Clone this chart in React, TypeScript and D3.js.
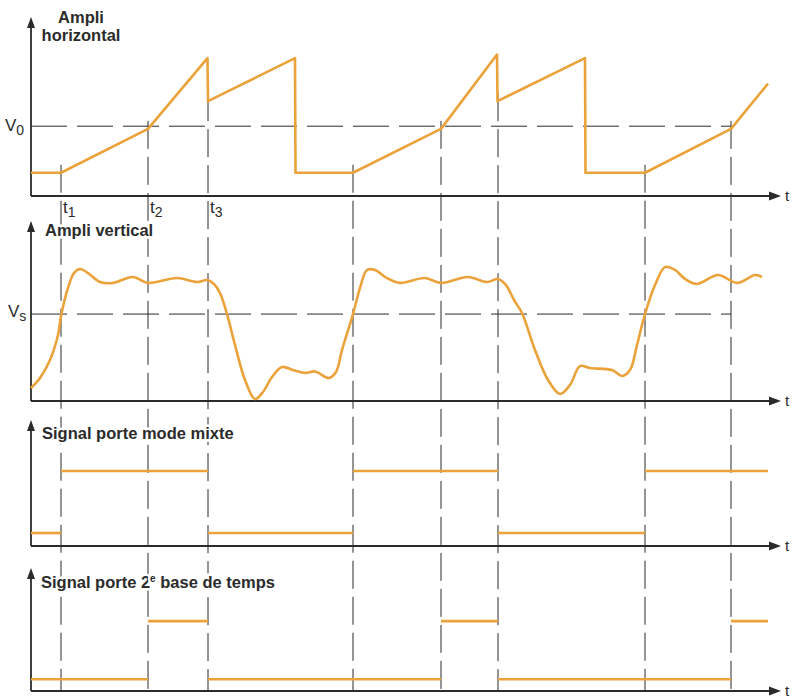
import React, { useEffect, useRef } from "react";
import * as d3 from "d3";

const W = 792;
const H = 699;

// time positions of the dashed verticals (t1, t2, t3, then repeated)
const markerTimes = [6, 23.4, 35.4, 64.4, 82, 93.4, 122.8, 140];
const markerNames = ["1", "2", "3"];

// Ampli horizontal : sawtooth
const hTimes = [0, 6, 23.4, 35.3, 35.4, 52.8, 52.9, 64.4, 82, 93.2, 93.3, 110.8, 110.9, 122.8, 140, 147.4];
const hValues = [13, 13, 37.5, 77, 53, 77, 13, 13, 37.5, 79, 53, 77, 13, 13, 37.5, 62.8];
const V0 = 39;

// Ampli vertical : ringing pulse
const vTimes = [
  0, 1.8, 3.8, 5.4, 6, 7.4, 8.6, 9.8, 11.4, 13.8, 16.4, 20.4, 23.4, 29.2, 33.2, 35.2,
  36.6, 37.8, 39.2, 40.8, 42.8, 44.8, 46.4, 48.2, 50.2, 52.4, 54.8, 56.8, 59.6, 61, 62.2, 64.4, 65.8,
  67.2, 68.8, 71.2, 73.8, 78.8, 82, 87.4, 91.2, 93.4, 95, 96.6, 98.2, 100.8, 103.4,
  105.8, 107.8, 109.8, 111.8, 116.2, 118.2, 119.8, 121.2, 122.8, 124.8, 126.8, 128.8, 130.8, 133.2,
  137.4, 141.2, 144.8, 146.2,
];
const vValues = [
  7.2, 12.8, 22.8, 36.7, 47.2, 62.8, 71.1, 73.3, 71.1, 66.1, 65.6, 68.9, 65.6, 68.3, 66.1, 67.2,
  65, 60, 48.3, 31.1, 11.7, 1.1, 5, 13.3, 18.9, 17.2, 15.6, 16.4, 12.8, 16.1, 28.3, 48.3, 62.8,
  72.8, 72.8, 68.3, 65.6, 68.3, 65.6, 68.9, 66.1, 67.8, 64.4, 56.1, 48.9, 28.3, 11.7,
  3.9, 8.9, 19.4, 18.3, 17.2, 13.9, 17.2, 31.1, 48.3, 64.4, 74.4, 72.8, 67.8, 65,
  70, 65.6, 70, 68.9,
];
const VS = 48.3;

// Signal porte mode mixte : segments [start, end], high or low
const mixStarts = [0, 6, 35.4, 64.4, 93.4, 122.8];
const mixEnds = [6, 35.4, 64.4, 93.4, 122.8, 147.4];
const mixHigh = [false, true, false, true, false, true];
const mixLow = 10.3;
const mixHi = 59.5;

// Signal porte 2e base de temps
const gateStarts = [0, 23.4, 35.4, 82, 93.4, 140];
const gateEnds = [23.4, 35.4, 82, 93.4, 140, 147.4];
const gateHigh = [false, true, false, true, false, true];
const gateLow = 9.6;
const gateHi = 56.8;

const ORANGE = "#eba23a";
const INK = "#2b2b2b";
const FONT = "'Liberation Sans', Arial, sans-serif";

export default function App() {
  const svgRef = useRef<SVGSVGElement>(null);

  useEffect(() => {
    const svg = d3.select(svgRef.current);
    svg.selectAll("*").remove();

    const x = d3.scaleLinear().domain([0, 150]).range([31, 781]);
    const panels = [
      { base: 196, top: 17 },
      { base: 401, top: 221 },
      { base: 546, top: 420 },
      { base: 691, top: 568 },
    ];
    const ys = panels.map((p) => d3.scaleLinear().domain([0, 100]).range([p.base, p.top]));

    // dashed vertical markers
    const gDash = svg.append("g");
    markerTimes.forEach((t) => {
      const vals = hTimes.map((ht, i) => (Math.abs(ht - t) < 0.2 ? hValues[i] : Infinity));
      const low = d3.min(vals) as number;
      const y0 = isFinite(low) ? ys[0](low) - 8 : ys[0](V0);
      gDash
        .append("line")
        .attr("x1", x(t))
        .attr("x2", x(t))
        .attr("y1", y0)
        .attr("y2", panels[3].base)
        .attr("stroke", INK)
        .attr("stroke-width", 1)
        .attr("stroke-dasharray", "28,8");
    });

    // horizontal reference levels
    [
      { v: V0, p: 0 },
      { v: VS, p: 1 },
    ].forEach((r) => {
      gDash
        .append("line")
        .attr("x1", x(0))
        .attr("x2", x(markerTimes[7]))
        .attr("y1", ys[r.p](r.v))
        .attr("y2", ys[r.p](r.v))
        .attr("stroke", INK)
        .attr("stroke-width", 1)
        .attr("stroke-dasharray", "36,10");
    });

    // axes with arrows
    panels.forEach((p) => {
      const g = svg.append("g");
      g.append("line")
        .attr("x1", x(0)).attr("x2", x(150) - 8)
        .attr("y1", p.base).attr("y2", p.base)
        .attr("stroke", INK).attr("stroke-width", 1.8);
      g.append("path")
        .attr("d", `M${x(150)},${p.base} l-12,-4.5 l0,9 z`)
        .attr("fill", INK);
      g.append("line")
        .attr("x1", x(0)).attr("x2", x(0))
        .attr("y1", p.base).attr("y2", p.top + 8)
        .attr("stroke", INK).attr("stroke-width", 1.8);
      g.append("path")
        .attr("d", `M${x(0)},${p.top} l-4,11 l8,0 z`)
        .attr("fill", INK);
      g.append("text")
        .attr("x", x(150) + 4)
        .attr("y", p.base + 5)
        .attr("font-family", FONT)
        .attr("font-size", 15)
        .attr("fill", INK)
        .text("t");
    });

    // curves
    const hLine = d3
      .line<number>()
      .x((d, i) => x(hTimes[i]))
      .y((d) => ys[0](d));
    svg.append("path")
      .attr("d", hLine(hValues))
      .attr("fill", "none")
      .attr("stroke", ORANGE)
      .attr("stroke-width", 2.6)
      .attr("stroke-linejoin", "round");

    const vLine = d3
      .line<number>()
      .x((d, i) => x(vTimes[i]))
      .y((d) => ys[1](d))
      .curve(d3.curveCatmullRom.alpha(0.5));
    svg.append("path")
      .attr("d", vLine(vValues))
      .attr("fill", "none")
      .attr("stroke", ORANGE)
      .attr("stroke-width", 2.6);

    const drawSteps = (starts: number[], ends: number[], high: boolean[], lo: number, hi: number, y: d3.ScaleLinear<number, number>) => {
      svg.append("g")
        .selectAll("line")
        .data(starts)
        .join("line")
        .attr("x1", (d) => x(d))
        .attr("x2", (d, i) => x(ends[i]))
        .attr("y1", (d, i) => y(high[i] ? hi : lo))
        .attr("y2", (d, i) => y(high[i] ? hi : lo))
        .attr("stroke", ORANGE)
        .attr("stroke-width", 2.6);
    };
    drawSteps(mixStarts, mixEnds, mixHigh, mixLow, mixHi, ys[2]);
    drawSteps(gateStarts, gateEnds, gateHigh, gateLow, gateHi, ys[3]);

    // labels
    const label = (tx: number, ty: number, anchor = "start", halo = true) =>
      svg.append("text")
        .attr("x", tx)
        .attr("y", ty)
        .attr("text-anchor", anchor)
        .attr("font-family", FONT)
        .attr("font-weight", "bold")
        .attr("font-size", 16.5)
        .attr("fill", INK)
        .attr("stroke", halo ? "#fff" : "none")
        .attr("stroke-width", 5)
        .attr("paint-order", "stroke");

    label(81, 23, "middle", false).text("Ampli");
    label(81, 41, "middle", false).text("horizontal");
    label(45, 236).text("Ampli vertical");
    label(42, 439).text("Signal porte mode mixte");
    const g2 = label(41, 588);
    g2.append("tspan").text("Signal porte 2");
    g2.append("tspan").attr("font-size", 10).attr("dy", -6).text("e");
    g2.append("tspan").attr("dy", 6).text(" base de temps");

    const sub = (tx: number, ty: number, main: string, small: string) => {
      const t = svg.append("text")
        .attr("x", tx)
        .attr("y", ty)
        .attr("font-family", FONT)
        .attr("font-size", 17)
        .attr("fill", INK);
      t.append("tspan").text(main);
      t.append("tspan").attr("font-size", 14).attr("dy", 4).text(small);
    };
    sub(5, ys[0](V0) + 5, "V", "0");
    sub(8, ys[1](VS) + 3, "V", "s");
    markerNames.forEach((n, i) => sub(x(markerTimes[i]) + 2, panels[0].base + 17, "t", n));
  }, []);

  return (
    <svg
      ref={svgRef}
      width={W}
      height={H}
      style={{ position: "absolute", left: 0, top: 0, background: "#fff" }}
    ></svg>
  );
}
